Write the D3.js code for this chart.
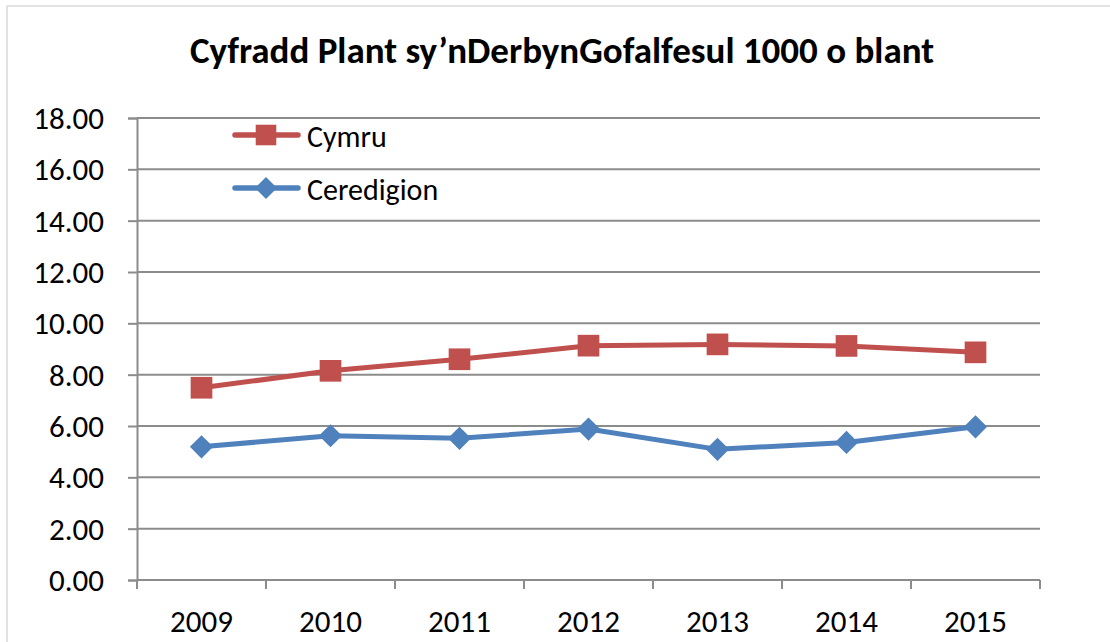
<!DOCTYPE html>
<html>
<head>
<meta charset="utf-8">
<script src="https://cdn.jsdelivr.net/npm/d3@7"></script>
<style>
  body { margin: 0; background: #fff; }
  svg text { font-family: Carlito, Lato, "Open Sans", sans-serif; fill: #000; }
</style>
</head>
<body>
<div id="chart"></div>
<script>
// chart data
const years = ['2009', '2010', '2011', '2012', '2013', '2014', '2015']
const cymru = [7.49, 8.15, 8.6, 9.13, 9.18, 9.12, 8.87]
const ceredigion = [5.19, 5.62, 5.52, 5.88, 5.09, 5.36, 5.97]
const yTicks = [0, 2, 4, 6, 8, 10, 12, 14, 16, 18]
const seriesNames = ['Cymru', 'Ceredigion']
const title = 'Cyfradd Plant sy’nDerbynGofalfesul 1000 o blant'

const w = 1110
const h = 642
const plot = { left: 137, right: 1040, top: 118, bottom: 580 }
const red = '#C0504D'
const blue = '#4F81BD'
const gridColor = '#8c8c8c'

const svg = d3.select('#chart').append('svg')
  .attr('width', w)
  .attr('height', h)

// outer chart frame (only top and left show)
svg.append('rect')
  .attr('x', 7).attr('y', 6)
  .attr('width', w + 20).attr('height', h + 20)
  .attr('fill', 'none')
  .attr('stroke', '#d9d9d9')
  .attr('stroke-width', 1.5)

svg.append('text')
  .attr('x', 562)
  .attr('y', 63)
  .attr('text-anchor', 'middle')
  .style('font-size', '37px')
  .style('font-weight', 'bold')
  .text(title)

const x = d3.scaleBand()
  .domain(years)
  .range([plot.left, plot.right])

const y = d3.scaleLinear()
  .domain([0, 18])
  .range([plot.bottom, plot.top])

// gridlines + y axis
const yAxis = svg.append('g')
  .attr('transform', `translate(${plot.left},0)`)
  .call(d3.axisLeft(y).tickValues(yTicks).tickFormat(d3.format('.2f'))
    .tickSize(9).tickPadding(24))
yAxis.select('.domain').attr('stroke', gridColor).attr('stroke-width', 2)
yAxis.selectAll('.tick line').attr('stroke', gridColor).attr('stroke-width', 2)
yAxis.selectAll('.tick text').style('font-size', '31px').attr('dy', '0.34em')

svg.append('g')
  .selectAll('line')
  .data(yTicks)
  .enter()
  .append('line')
  .attr('x1', plot.left)
  .attr('x2', plot.right)
  .attr('y1', d => y(d))
  .attr('y2', d => y(d))
  .attr('stroke', gridColor)
  .attr('stroke-width', 2)

// x axis, ticks between the categories
const xAxis = svg.append('g')
  .attr('transform', `translate(0,${plot.bottom})`)
  .call(d3.axisBottom(x).tickSize(0).tickPadding(30))
xAxis.select('.domain').remove()
xAxis.selectAll('.tick text').style('font-size', '31px')

const bounds = years.map(d => x(d)).concat([plot.right])
svg.append('g')
  .selectAll('line')
  .data(bounds)
  .enter()
  .append('line')
  .attr('x1', d => d)
  .attr('x2', d => d)
  .attr('y1', plot.bottom)
  .attr('y2', plot.bottom + 9)
  .attr('stroke', gridColor)
  .attr('stroke-width', 2)

const cx = d => x(d) + x.bandwidth() / 2
const line = d3.line()
  .x(d => cx(d.year))
  .y(d => y(d.value))

// diamond = square turned 45 degrees, as in the original
const series = [
  { name: seriesNames[0], color: red, size: 470, rot: 0, values: cymru },
  { name: seriesNames[1], color: blue, size: 270, rot: 45, values: ceredigion }
]

series.forEach(s => {
  const pts = years.map((yr, i) => ({ year: yr, value: s.values[i] }))
  svg.append('path')
    .datum(pts)
    .attr('d', line)
    .attr('fill', 'none')
    .attr('stroke', s.color)
    .attr('stroke-width', 5)
    .attr('stroke-linejoin', 'round')

  svg.append('g')
    .selectAll('path')
    .data(pts)
    .enter()
    .append('path')
    .attr('d', d3.symbol().type(d3.symbolSquare).size(s.size))
    .attr('transform', d => `translate(${cx(d.year)},${y(d.value)}) rotate(${s.rot})`)
    .attr('fill', s.color)
})

// legend
const legend = svg.append('g')
series.forEach((s, i) => {
  const ly = 135 + i * 53
  legend.append('line')
    .attr('x1', 235).attr('x2', 298)
    .attr('y1', ly).attr('y2', ly)
    .attr('stroke', s.color)
    .attr('stroke-width', 5.5)
    .attr('stroke-linecap', 'round')
  legend.append('path')
    .attr('d', d3.symbol().type(d3.symbolSquare).size(s.size * 0.9))
    .attr('transform', `translate(266,${ly}) rotate(${s.rot})`)
    .attr('fill', s.color)
  legend.append('text')
    .attr('x', 307)
    .attr('y', ly + 12)
    .style('font-size', '30px')
    .text(s.name)
})
</script>
</body>
</html>
